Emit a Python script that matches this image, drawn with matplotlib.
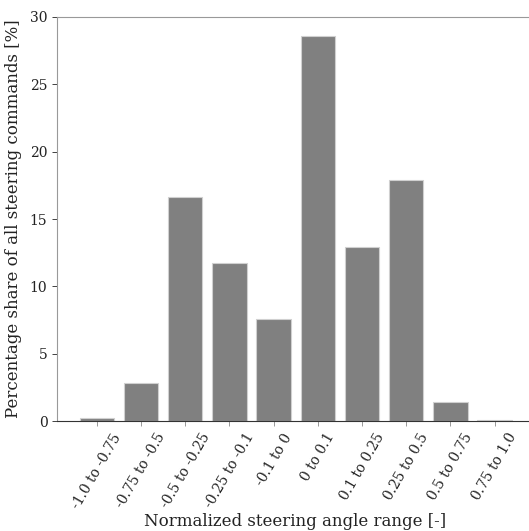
import matplotlib
matplotlib.use("Agg")
import matplotlib.pyplot as plt

ranges = ['-1.0 to -0.75', '-0.75 to -0.5', '-0.5 to -0.25', '-0.25 to -0.1', '-0.1 to 0',
          '0 to 0.1', '0.1 to 0.25', '0.25 to 0.5', '0.5 to 0.75', '0.75 to 1.0']
share = [0.2, 2.8, 16.6, 11.7, 7.6, 28.6, 12.95, 17.9, 1.4, 0.06]

plt.rcParams['font.family'] = 'DejaVu Serif'
plt.rcParams['font.size'] = 10

fig = plt.figure(figsize=(5.29, 5.31), dpi=100)
ax = fig.add_axes([0.108, 0.207, 0.892, 0.761])

x = range(len(ranges))
ax.bar(x, share, width=0.78, color='#808080', edgecolor='#d0d0d0', linewidth=0.8)

ax.set_xlim(-0.9, 9.78)
ax.set_ylim(0, 30)
ax.set_xticks(list(x))
ax.set_xticklabels(ranges, rotation=60)
ax.set_yticks([0, 5, 10, 15, 20, 25, 30])
ax.tick_params(axis='both', colors='#222222', labelsize=10, length=3.5, width=0.6)
ax.tick_params(axis='x', colors='#888888', labelcolor='#222222')

ax.spines['left'].set_color('#999999')
ax.spines['top'].set_color('#999999')
ax.spines['bottom'].set_color('#333333')
ax.spines['right'].set_visible(False)

ax.set_ylabel('Percentage share of all steering commands [%]', fontsize=12, color='#222222')
ax.yaxis.set_label_coords(-0.075, 0.5)
fig.text(295 / 529, 1 - 526 / 531, 'Normalized steering angle range [-]',
         fontsize=12, color='#222222', ha='center', va='baseline')

fig.savefig('out.png', dpi=100)
